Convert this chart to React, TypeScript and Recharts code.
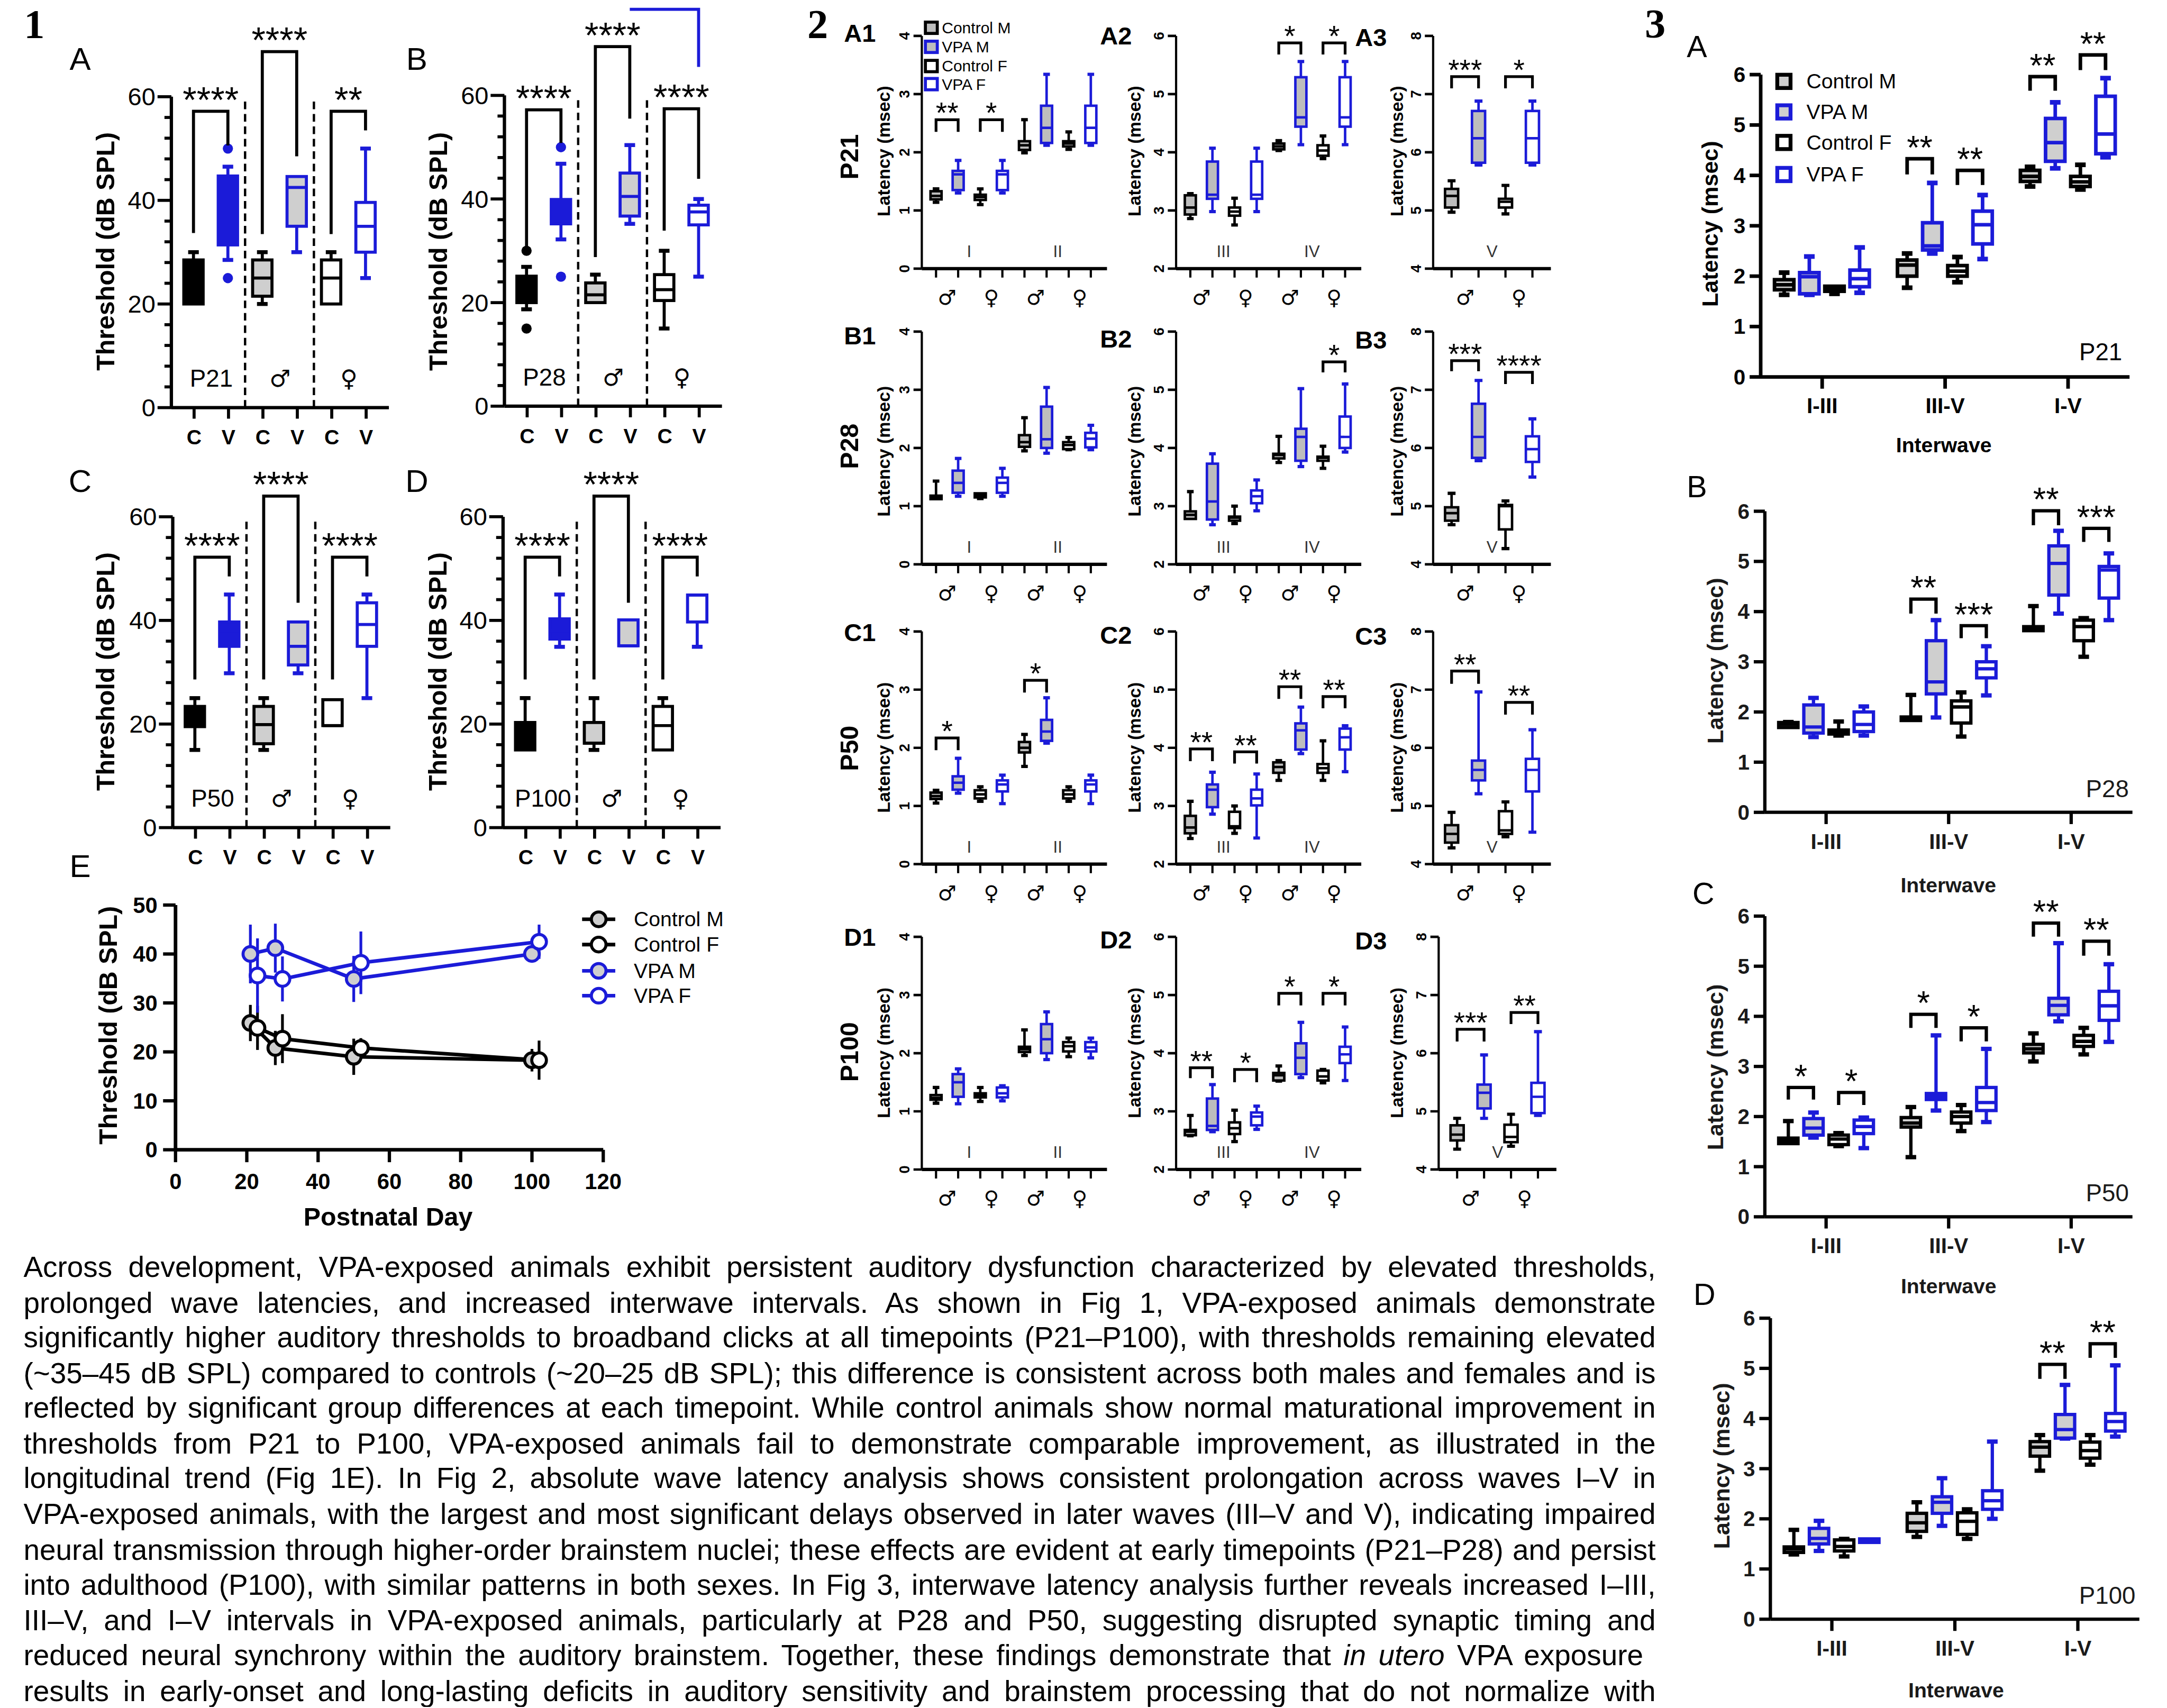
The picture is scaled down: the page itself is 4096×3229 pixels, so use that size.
import React from 'react';
import { BarChart, Bar, XAxis, YAxis, LineChart, Line, ErrorBar } from 'recharts';

const SCALE = 4096 / 1568;
const BLUE = '#1b1bd8';
const GREY = '#cfcfcf';
const GREY2 = '#bdbdbd';
const SANS = '"Liberation Sans", Arial, Helvetica, sans-serif';
const SERIF = '"Liberation Serif", "Times New Roman", serif';
const SYM = '"DejaVu Sans", sans-serif';

// ---------- Fig 1: click thresholds (dB SPL), box = [min, q1, median, q3, max] ----------
const fig1XLabels = ['C', 'V', 'C', 'V', 'C', 'V'];
const fig1YTicks = [0, 4, 8, 12, 16, 20, 24, 28, 32, 36, 40, 44, 48, 52, 56, 60];

const fig1A = [
  [20, 20, 25, 28.5, 30],
  [28.5, 31.4, 40, 44.7, 46.5],
  [20, 21.5, 25, 28.5, 30],
  [30, 35, 42.5, 44.6, 44.6],
  [20, 20, 25, 28.5, 30],
  [25, 30, 35, 39.6, 50],
];
const fig1AOut = [[], [50, 25], [], [], [], []];
// [from, to, bar top, left leg end, right leg end, stars]
const fig1ASig = [
  [0, 1, 57.2, 33.7, 50.6, '****'],
  [2, 3, 68.7, 33.5, 48.5, '****'],
  [4, 5, 57.2, 33.5, 53.5, '**'],
];

const fig1B = [
  [18.7, 20, 22, 25.1, 26.9],
  [32.2, 35.2, 38, 39.9, 46.8],
  [20, 20, 21.5, 23.8, 25.4],
  [35.2, 36.7, 40.5, 45, 50.4],
  [15, 20.4, 22.5, 25.4, 30],
  [25, 35, 37.5, 38.8, 40],
];
const fig1BOut = [[30, 15], [50, 25], [], [], [], []];
const fig1BSig = [
  [0, 1, 57.2, 30.7, 50.8, '****'],
  [2, 3, 69.4, 28.8, 55.5, '****'],
  [4, 5, 57.4, 33.9, 43.9, '****'],
];
const fig1BStray = [3, 5, 76.6, 65.5];

const fig1C = [
  [15, 19.5, 22, 23.4, 25],
  [29.8, 35, 38, 39.7, 45],
  [15, 16.2, 19.9, 23.4, 25],
  [29.8, 31.4, 35, 39.7, 39.7],
  [19.7, 19.7, 19.7, 24.7, 24.7],
  [25, 35, 39.2, 43.4, 45],
];
const fig1CSig = [
  [0, 1, 52.2, 28.6, 48.5, '****'],
  [2, 3, 64, 28.6, 43.4, '****'],
  [4, 5, 52.2, 28.6, 48.5, '****'],
];

const fig1D = [
  [15, 15, 18, 20.3, 25],
  [34.9, 36.4, 38, 40.3, 45],
  [15, 16.3, 16.3, 20.3, 25],
  [35.1, 35.1, 35.1, 40.1, 40.1],
  [15, 15, 19.7, 23.4, 25],
  [34.9, 39.7, 44.9, 44.9, 44.9],
];
const fig1DSig = [
  [0, 1, 52.2, 28.6, 48.5, '****'],
  [2, 3, 64, 28.6, 43.4, '****'],
  [4, 5, 52.2, 28.6, 48.5, '****'],
];
const noOut = [[], [], [], [], [], []];

// Fig 1E: mean threshold by postnatal day, +/- error
const eXTicks = [0, 20, 40, 60, 80, 100, 120];
const eYTicks = [0, 10, 20, 30, 40, 50];
const eControlM = [
  { day: 21, db: 25.9, err: 3.7 },
  { day: 28, db: 20.8, err: 3.5 },
  { day: 50, db: 19.0, err: 3.7 },
  { day: 100, db: 18.3, err: 2.3 },
];
const eControlF = [
  { day: 23, db: 24.9, err: 4.5 },
  { day: 30, db: 22.7, err: 5.0 },
  { day: 52, db: 20.8, err: 2.0 },
  { day: 102, db: 18.3, err: 4.0 },
];
const eVpaM = [
  { day: 21, db: 40.0, err: 6.0 },
  { day: 28, db: 41.2, err: 5.0 },
  { day: 50, db: 34.9, err: 4.7 },
  { day: 100, db: 40.0, err: 1.5 },
];
const eVpaF = [
  { day: 23, db: 35.6, err: 7.6 },
  { day: 30, db: 34.9, err: 4.6 },
  { day: 52, db: 38.2, err: 6.4 },
  { day: 102, db: 42.5, err: 3.5 },
];

// ---------- Fig 2: absolute wave latencies (msec) ----------
const fig2A1 = [
  [1.14, 1.19, 1.25, 1.33, 1.37], [1.3, 1.35, 1.62, 1.68, 1.86],
  [1.1, 1.18, 1.23, 1.27, 1.37], [1.3, 1.35, 1.62, 1.68, 1.86],
  [1.99, 2.04, 2.12, 2.19, 2.56], [2.12, 2.16, 2.42, 2.8, 3.34],
  [2.05, 2.1, 2.15, 2.19, 2.35], [2.12, 2.16, 2.42, 2.8, 3.34],
];
const fig2A2 = [
  [2.86, 2.93, 3.05, 3.26, 3.29], [2.98, 3.2, 3.27, 3.84, 4.07],
  [2.75, 2.91, 2.98, 3.05, 3.21], [2.98, 3.2, 3.27, 3.84, 4.07],
  [4.03, 4.05, 4.1, 4.15, 4.2], [4.13, 4.44, 4.6, 5.29, 5.56],
  [3.89, 3.94, 4.03, 4.12, 4.28], [4.13, 4.44, 4.6, 5.29, 5.56],
];
const fig2A3 = [
  [4.97, 5.05, 5.25, 5.37, 5.51], [5.78, 5.82, 6.24, 6.71, 6.88],
  [4.94, 5.05, 5.15, 5.2, 5.43], [5.78, 5.82, 6.24, 6.71, 6.88],
];
const fig2B1 = [
  [1.12, 1.12, 1.15, 1.18, 1.43], [1.17, 1.23, 1.4, 1.61, 1.82],
  [1.13, 1.15, 1.19, 1.22, 1.22], [1.17, 1.23, 1.4, 1.49, 1.65],
  [1.95, 2.02, 2.1, 2.22, 2.52], [1.91, 2.0, 2.15, 2.71, 3.04],
  [1.97, 1.98, 2.05, 2.1, 2.18], [1.97, 2.01, 2.16, 2.26, 2.39],
];
const fig2B2 = [
  [2.78, 2.78, 2.85, 2.91, 3.25], [2.68, 2.77, 3.08, 3.73, 3.9],
  [2.7, 2.75, 2.8, 2.82, 3.0], [2.92, 3.05, 3.17, 3.27, 3.45],
  [3.75, 3.82, 3.88, 3.9, 4.2], [3.68, 3.78, 4.19, 4.33, 5.02],
  [3.65, 3.78, 3.83, 3.85, 4.03], [3.93, 4.0, 4.19, 4.54, 5.1],
];
const fig2B3 = [
  [4.68, 4.75, 4.88, 4.98, 5.22], [5.78, 5.83, 6.19, 6.76, 7.16],
  [4.27, 4.6, 5.0, 5.02, 5.09], [5.5, 5.76, 5.98, 6.2, 6.5],
];
const fig2C1 = [
  [1.05, 1.12, 1.17, 1.23, 1.27], [1.22, 1.28, 1.4, 1.51, 1.82],
  [1.08, 1.13, 1.2, 1.27, 1.33], [1.04, 1.25, 1.37, 1.44, 1.53],
  [1.68, 1.92, 2.0, 2.1, 2.23], [2.08, 2.12, 2.28, 2.48, 2.86],
  [1.08, 1.13, 1.2, 1.27, 1.33], [1.04, 1.25, 1.37, 1.44, 1.53],
];
const fig2C2 = [
  [2.44, 2.53, 2.63, 2.83, 3.08], [2.86, 2.98, 3.28, 3.37, 3.58],
  [2.53, 2.62, 2.65, 2.9, 3.0], [2.45, 3.01, 3.13, 3.28, 3.55],
  [3.44, 3.57, 3.67, 3.75, 3.78], [3.9, 3.97, 4.3, 4.42, 4.7],
  [3.44, 3.57, 3.65, 3.72, 4.12], [3.59, 3.97, 4.18, 4.33, 4.38],
];
const fig2C3 = [
  [4.28, 4.37, 4.52, 4.67, 4.89], [5.21, 5.44, 5.62, 5.78, 6.96],
  [4.47, 4.52, 4.58, 4.91, 5.07], [4.55, 5.25, 5.62, 5.81, 6.31],
];
const fig2D1 = [
  [1.14, 1.2, 1.23, 1.28, 1.41], [1.13, 1.25, 1.5, 1.64, 1.73],
  [1.17, 1.24, 1.27, 1.31, 1.41], [1.18, 1.24, 1.31, 1.41, 1.44],
  [1.96, 2.02, 2.07, 2.11, 2.4], [1.89, 2.0, 2.24, 2.5, 2.71],
  [1.94, 2.03, 2.12, 2.19, 2.26], [1.92, 2.03, 2.1, 2.19, 2.26],
];
const fig2D2 = [
  [2.58, 2.59, 2.65, 2.68, 2.93], [2.65, 2.68, 2.75, 3.22, 3.46],
  [2.48, 2.61, 2.71, 2.81, 3.02], [2.69, 2.76, 2.91, 2.98, 3.09],
  [3.52, 3.53, 3.62, 3.66, 3.78], [3.58, 3.64, 3.92, 4.17, 4.53],
  [3.49, 3.53, 3.6, 3.7, 3.72], [3.53, 3.83, 3.98, 4.11, 4.45],
];
const fig2D3 = [
  [4.35, 4.5, 4.6, 4.76, 4.88], [4.88, 5.05, 5.32, 5.46, 5.97],
  [4.4, 4.47, 4.56, 4.77, 4.95], [4.93, 4.97, 5.25, 5.49, 6.37],
];
const fig2A1Sig = [[0, 1, 2.56, 2.35, 2.35, '**'], [2, 3, 2.56, 2.35, 2.35, '*']];
const fig2A2Sig = [[4, 5, 5.88, 5.68, 5.68, '*'], [6, 7, 5.88, 5.68, 5.68, '*']];
const fig2A3Sig = [[0, 1, 7.3, 7.1, 7.1, '***'], [2, 3, 7.3, 7.1, 7.1, '*']];
const fig2B2Sig = [[6, 7, 5.48, 5.3, 5.3, '*']];
const fig2B3Sig = [[0, 1, 7.5, 7.32, 7.32, '***'], [2, 3, 7.3, 7.1, 7.1, '****']];
const fig2C1Sig = [[0, 1, 2.17, 1.96, 1.96, '*'], [4, 5, 3.16, 2.95, 2.95, '*']];
const fig2C2Sig = [
  [0, 1, 3.98, 3.77, 3.77, '**'], [2, 3, 3.93, 3.73, 3.73, '**'],
  [4, 5, 5.05, 4.84, 4.84, '**'], [6, 7, 4.88, 4.68, 4.68, '**'],
];
const fig2C3Sig = [[0, 1, 7.32, 7.1, 7.1, '**'], [2, 3, 6.78, 6.57, 6.57, '**']];
const fig2D2Sig = [
  [0, 1, 3.75, 3.57, 3.57, '**'], [2, 3, 3.72, 3.5, 3.5, '*'],
  [4, 5, 5.03, 4.82, 4.82, '*'], [6, 7, 5.03, 4.82, 4.82, '*'],
];
const fig2D3Sig = [[0, 1, 6.41, 6.2, 6.2, '***'], [2, 3, 6.7, 6.5, 6.5, '**']];

// ---------- Fig 3: interwave latencies (msec), per group: I-III, III-V, I-V ----------
const fig3Cats = ['I-III', 'III-V', 'I-V'];
const fig3YTicks = [0, 1, 2, 3, 4, 5, 6];
const f3aCM = [[1.63, 1.73, 1.83, 1.93, 2.07], [1.77, 2.0, 2.22, 2.32, 2.45], [3.78, 3.88, 3.98, 4.1, 4.17]];
const f3aVM = [[1.63, 1.65, 1.99, 2.07, 2.39], [2.45, 2.52, 2.6, 3.06, 3.85], [4.14, 4.28, 4.65, 5.13, 5.45]];
const f3aCF = [[1.65, 1.7, 1.75, 1.8, 1.8], [1.88, 2.0, 2.1, 2.21, 2.38], [3.72, 3.78, 3.87, 3.98, 4.21]];
const f3aVF = [[1.67, 1.79, 1.95, 2.12, 2.57], [2.34, 2.64, 3.02, 3.29, 3.61], [4.36, 4.43, 4.82, 5.57, 5.93]];
const f3bCM = [[1.69, 1.69, 1.75, 1.79, 1.8], [1.83, 1.83, 1.87, 1.9, 2.34], [3.62, 3.62, 3.66, 3.7, 4.11]];
const f3bVM = [[1.5, 1.58, 1.7, 2.14, 2.28], [1.89, 2.36, 2.6, 3.42, 3.83], [3.96, 4.33, 4.96, 5.31, 5.61]];
const f3bCF = [[1.53, 1.56, 1.6, 1.64, 1.81], [1.51, 1.78, 2.1, 2.22, 2.39], [3.1, 3.42, 3.7, 3.83, 3.87]];
const f3bVF = [[1.53, 1.61, 1.75, 2.0, 2.11], [2.33, 2.68, 2.86, 3.0, 3.31], [3.83, 4.27, 4.83, 4.9, 5.16]];
const f3cCM = [[1.46, 1.46, 1.52, 1.57, 1.91], [1.19, 1.79, 1.87, 1.98, 2.19], [3.1, 3.27, 3.35, 3.44, 3.66]];
const f3cVM = [[1.58, 1.63, 1.77, 1.96, 2.08], [2.12, 2.34, 2.4, 2.46, 3.62], [3.9, 4.03, 4.22, 4.36, 5.46]];
const f3cCF = [[1.41, 1.44, 1.55, 1.63, 1.67], [1.71, 1.87, 2.0, 2.09, 2.23], [3.24, 3.4, 3.5, 3.62, 3.77]];
const f3cVF = [[1.37, 1.66, 1.8, 1.93, 1.98], [1.89, 2.12, 2.28, 2.58, 3.35], [3.49, 3.92, 4.21, 4.5, 5.04]];
const f3dCM = [[1.29, 1.33, 1.4, 1.44, 1.78], [1.64, 1.75, 1.92, 2.11, 2.33], [2.96, 3.25, 3.43, 3.54, 3.67]];
const f3dVM = [[1.36, 1.5, 1.61, 1.81, 1.96], [1.86, 2.11, 2.33, 2.44, 2.81], [3.6, 3.61, 3.78, 4.08, 4.67]];
const f3dCF = [[1.25, 1.36, 1.45, 1.58, 1.6], [1.6, 1.69, 1.95, 2.12, 2.19], [3.08, 3.21, 3.36, 3.53, 3.67]];
const f3dVF = [[1.53, 1.53, 1.56, 1.6, 1.6], [2.0, 2.19, 2.36, 2.56, 3.54], [3.64, 3.75, 3.94, 4.1, 5.06]];
// [group, pair (M/F), bar top, leg end, stars]
const f3aSig = [[1, 'M', 4.33, 4.02, '**'], [1, 'F', 4.1, 3.81, '**'], [2, 'M', 5.96, 5.68, '**'], [2, 'F', 6.39, 6.09, '**']];
const f3bSig = [[1, 'M', 4.25, 3.96, '**'], [1, 'F', 3.72, 3.47, '***'], [2, 'M', 6.01, 5.72, '**'], [2, 'F', 5.66, 5.39, '***']];
const f3cSig = [
  [0, 'M', 2.58, 2.34, '*'], [0, 'F', 2.48, 2.23, '*'], [1, 'M', 4.04, 3.77, '*'],
  [1, 'F', 3.77, 3.5, '*'], [2, 'M', 5.86, 5.59, '**'], [2, 'F', 5.5, 5.21, '**'],
];
const f3dSig = [[2, 'M', 5.08, 4.79, '**'], [2, 'F', 5.49, 5.21, '**']];

const paragraph = [
  'Across development, VPA-exposed animals exhibit persistent auditory dysfunction characterized by elevated thresholds,',
  'prolonged wave latencies, and increased interwave intervals. As shown in Fig 1, VPA-exposed animals demonstrate',
  'significantly higher auditory thresholds to broadband clicks at all timepoints (P21–P100), with thresholds remaining elevated',
  '(~35–45 dB SPL) compared to controls (~20–25 dB SPL); this difference is consistent across both males and females and is',
  'reflected by significant group differences at each timepoint. While control animals show normal maturational improvement in',
  'thresholds from P21 to P100, VPA-exposed animals fail to demonstrate comparable improvement, as illustrated in the',
  'longitudinal trend (Fig 1E). In Fig 2, absolute wave latency analysis shows consistent prolongation across waves I–V in',
  'VPA-exposed animals, with the largest and most significant delays observed in later waves (III–V and V), indicating impaired',
  'neural transmission through higher-order brainstem nuclei; these effects are evident at early timepoints (P21–P28) and persist',
  'into adulthood (P100), with similar patterns in both sexes. In Fig 3, interwave latency analysis further reveals increased I–III,',
  'III–V, and I–V intervals in VPA-exposed animals, particularly at P28 and P50, suggesting disrupted synaptic timing and',
  'reduced neural synchrony within the auditory brainstem. Together, these findings demonstrate that *in utero* VPA exposure',
  'results in early-onset and long-lasting deficits in auditory sensitivity and brainstem processing that do not normalize with',
];

// ---------- shared helpers ----------
const FR = { ml: 10, yw: 40, mt: 85, mr: 12, mb: 4, xh: 50 };
function frame(px: number, py: number, pw: number, ph: number, mr = FR.mr) {
  return {
    style: { position: 'absolute', left: px - FR.ml - FR.yw, top: py - FR.mt } as React.CSSProperties,
    width: pw + FR.ml + FR.yw + mr,
    height: ph + FR.mt + FR.mb + FR.xh,
    margin: { top: FR.mt, right: mr, bottom: FR.mb, left: FR.ml },
  };
}

// linear value->pixel map recovered from the bar the library laid out for [q1, q3]
function barScale(p: any, lo: number, hi: number) {
  let y = p.y;
  let h = p.height;
  if (h < 0) { y += h; h = -h; }
  const k = h / (hi - lo);
  return (v: number) => y + (hi - v) * k;
}

function boxMarks(p: any, b: number[], Y: (v: number) => number, st: any, sw: number, cap: number) {
  const [mn, q1, md, q3, mx] = b;
  const cx = p.x + p.width / 2;
  const hw = (p.width * cap) / 2;
  const ln = { stroke: st.stroke, strokeWidth: sw };
  return (
    <g>
      {mx > q3 && <line x1={cx} x2={cx} y1={Y(mx)} y2={Y(q3)} {...ln} />}
      {mn < q1 && <line x1={cx} x2={cx} y1={Y(q1)} y2={Y(mn)} {...ln} />}
      {mx > q3 && <line x1={cx - hw} x2={cx + hw} y1={Y(mx)} y2={Y(mx)} stroke={st.stroke} strokeWidth={sw * 1.3} />}
      {mn < q1 && <line x1={cx - hw} x2={cx + hw} y1={Y(mn)} y2={Y(mn)} stroke={st.stroke} strokeWidth={sw * 1.3} />}
      <rect x={p.x} y={Y(q3)} width={p.width} height={Y(q1) - Y(q3)} fill={st.fill} stroke={st.stroke} strokeWidth={sw} />
      <line x1={p.x} x2={p.x + p.width} y1={Y(md)} y2={Y(md)} {...ln} />
    </g>
  );
}

function sigMark(key: any, xa: number, xb: number, Y: (v: number) => number, s: any[], o: any) {
  const yt = Y(s[2]);
  return (
    <g key={key}>
      <polyline
        points={`${xa},${Y(s[3])} ${xa},${yt} ${xb},${yt} ${xb},${Y(s[4])}`}
        fill="none" stroke={o.color} strokeWidth={o.sw} strokeLinejoin="miter"
      />
      {s[5] ? (
        <text x={(xa + xb) / 2} y={yt - o.gap + 0.58 * o.fs} textAnchor="middle" fontFamily={SANS} fontSize={o.fs} fill="#000">
          {s[5]}
        </text>
      ) : null}
    </g>
  );
}

const idx = (v: any) => Number(String(v).slice(1));

// ---------- Fig 1 panels ----------
const fig1Styles = [
  { fill: '#000', stroke: '#000' },
  { fill: BLUE, stroke: BLUE },
  { fill: GREY, stroke: '#000' },
  { fill: GREY, stroke: BLUE },
  { fill: '#fff', stroke: '#000' },
  { fill: '#fff', stroke: BLUE },
];

function Fig1Panel({ px, py, boxes, out, sig, age, stray }: any) {
  const pw = 157.4, ph = 225, pad = 4;
  const f = frame(px, py, pw, ph);
  const step = (pw - 2 * pad) / boxes.length;
  const rows = boxes.map((b: number[], i: number) => ({ id: 'g' + i, i, b, r: [b[1], b[3]], out: out[i] }));
  const inner = [age, '♂', '♀'];

  const shape = (p: any) => {
    const { i, b } = p.payload;
    const st = fig1Styles[i];
    const Y = barScale(p, b[1], b[3]);
    const cx = p.x + p.width / 2;
    const so = { sw: 2.2, color: '#000', gap: 14.5, fs: 26 };
    return (
      <g>
        {(i === 1 || i === 3) && (
          <line x1={cx + step / 2} x2={cx + step / 2} y1={Y(0)} y2={Y(59.3)} stroke="#000" strokeWidth={1.7} strokeDasharray="5.5 3.5" />
        )}
        {boxMarks(p, b, Y, st, 2.2, 0.55)}
        {p.payload.out.map((v: number, k: number) => (
          <circle key={k} cx={cx} cy={Y(v)} r={3.7} fill={st.stroke} />
        ))}
        {sig.filter((s: any) => s[1] === i).map((s: any, k: number) => sigMark(k, cx - (s[1] - s[0]) * step, cx, Y, s, so))}
        {stray && stray[1] === i &&
          sigMark('stray', cx - (stray[1] - stray[0]) * step, cx, Y, [0, 0, stray[2], stray[2], stray[3], ''], { ...so, color: BLUE })}
      </g>
    );
  };

  const yTick = (p: any) => {
    const v = p.payload.value;
    const major = v % 20 === 0;
    return (
      <g>
        <line x1={p.x} x2={p.x - (major ? 10 : 5)} y1={p.y} y2={p.y} stroke="#000" strokeWidth={2.2} />
        {major && (
          <text x={p.x - 11.5} y={p.y} textAnchor="end" dominantBaseline="central" fontSize={18} fontFamily={SANS} fill="#000">{v}</text>
        )}
      </g>
    );
  };
  const xTick = (p: any) => {
    const i = idx(p.payload.value);
    return (
      <g>
        <line x1={p.x} x2={p.x} y1={p.y} y2={p.y + 8} stroke="#000" strokeWidth={2.2} />
        <text x={p.x} y={p.y + 21.5} textAnchor="middle" dominantBaseline="central" fontSize={15} fontWeight="bold" fontFamily={SANS} fill="#000">
          {fig1XLabels[i]}
        </text>
        {i % 2 === 0 && (
          <text x={p.x + step / 2} y={p.y - 21} textAnchor="middle" dominantBaseline="central"
            fontSize={i === 0 ? 17.5 : 17} fontFamily={i === 0 ? SANS : SYM} fill="#000">
            {inner[i / 2]}
          </text>
        )}
      </g>
    );
  };

  return (
    <div style={f.style}>
      <BarChart width={f.width} height={f.height} data={rows} margin={f.margin} barSize={14}>
        <XAxis dataKey="id" interval={0} height={FR.xh} padding={{ left: pad, right: pad }} tickSize={0} tickMargin={0}
          tickLine={false} axisLine={{ stroke: '#000', strokeWidth: 2.4 }} tick={xTick} />
        <YAxis type="number" domain={[0, 60]} ticks={fig1YTicks} interval={0} width={FR.yw} tickSize={0} tickMargin={0}
          tickLine={false} axisLine={{ stroke: '#000', strokeWidth: 2.4 }} tick={yTick} />
        <Bar dataKey="r" shape={shape} isAnimationActive={false} />
      </BarChart>
    </div>
  );
}

function Fig1E() {
  const f = frame(126.7, 654.8, 309.5, 177.1, 40);
  const ser = [
    { data: eControlM, stroke: '#000', fill: GREY },
    { data: eControlF, stroke: '#000', fill: '#fff' },
    { data: eVpaM, stroke: BLUE, fill: GREY },
    { data: eVpaF, stroke: BLUE, fill: '#fff' },
  ];
  const yTick = (p: any) => (
    <g>
      <line x1={p.x} x2={p.x - 9} y1={p.y} y2={p.y} stroke="#000" strokeWidth={2.4} />
      <text x={p.x - 13} y={p.y} textAnchor="end" dominantBaseline="central" fontSize={16} fontWeight="bold" fontFamily={SANS} fill="#000">
        {p.payload.value}
      </text>
    </g>
  );
  const xTick = (p: any) => (
    <g>
      <line x1={p.x} x2={p.x} y1={p.y} y2={p.y + 9} stroke="#000" strokeWidth={2.4} />
      <text x={p.x} y={p.y + 23} textAnchor="middle" dominantBaseline="central" fontSize={16} fontWeight="bold" fontFamily={SANS} fill="#000">
        {p.payload.value}
      </text>
    </g>
  );
  return (
    <div style={f.style}>
      <LineChart width={f.width} height={f.height} margin={f.margin}>
        <XAxis type="number" dataKey="day" domain={[0, 120]} ticks={eXTicks} interval={0} height={FR.xh} tickSize={0} tickMargin={0}
          tickLine={false} axisLine={{ stroke: '#000', strokeWidth: 2.6 }} tick={xTick} allowDuplicatedCategory={false} />
        <YAxis type="number" domain={[0, 50]} ticks={eYTicks} interval={0} width={FR.yw} tickSize={0} tickMargin={0}
          tickLine={false} axisLine={{ stroke: '#000', strokeWidth: 2.6 }} tick={yTick} />
        {ser.map((s, k) => (
          <Line key={k} data={s.data} dataKey="db" stroke={s.stroke} strokeWidth={2.6} isAnimationActive={false}
            dot={(p: any) => <circle key={p.index} cx={p.cx} cy={p.cy} r={5.3} fill={s.fill} stroke={s.stroke} strokeWidth={2.2} />}>
            <ErrorBar dataKey="err" width={0} stroke={s.stroke} strokeWidth={2} direction="y" isAnimationActive={false} />
          </Line>
        ))}
      </LineChart>
    </div>
  );
}

// ---------- Fig 2 panels ----------
const fig2Styles = [
  { fill: GREY2, stroke: '#000' },
  { fill: GREY2, stroke: BLUE },
  { fill: '#fff', stroke: '#000' },
  { fill: '#fff', stroke: BLUE },
];

function Fig2Panel({ px, py, pw, pad, boxes, sig, dom, yt, roman, bw }: any) {
  const ph = 168.4;
  const f = frame(px, py, pw, ph);
  const step = (pw - pad[0] - pad[1]) / boxes.length;
  const rows = boxes.map((b: number[], i: number) => ({ id: 'w' + i, i, b, r: [b[1], b[3]] }));

  const shape = (p: any) => {
    const { i, b } = p.payload;
    const Y = barScale(p, b[1], b[3]);
    const cx = p.x + p.width / 2;
    return (
      <g>
        {boxMarks(p, b, Y, fig2Styles[i % 4], 1.8, 0.6)}
        {sig.filter((s: any) => s[1] === i).map((s: any, k: number) =>
          sigMark(k, cx - (s[1] - s[0]) * step, cx, Y, s, { sw: 2, color: '#000', gap: 9.8, fs: 21 }))}
      </g>
    );
  };
  const yTick = (p: any) => {
    const tx = p.x - 12.5;
    return (
      <g>
        <line x1={p.x} x2={p.x - 6} y1={p.y} y2={p.y} stroke="#000" strokeWidth={1.8} />
        <text x={tx} y={p.y} transform={`rotate(-90 ${tx} ${p.y})`} textAnchor="middle" dominantBaseline="central"
          fontSize={10.5} fontWeight="bold" fontFamily={SANS} fill="#000">
          {p.payload.value}
        </text>
      </g>
    );
  };
  const xTick = (p: any) => {
    const i = idx(p.payload.value);
    return (
      <g>
        <line x1={p.x} x2={p.x} y1={p.y} y2={p.y + 6.5} stroke="#000" strokeWidth={1.6} />
        {i % 2 === 0 && (
          <text x={p.x + step / 2} y={p.y + 21} textAnchor="middle" dominantBaseline="central" fontSize={15} fontFamily={SYM} fill="#000">
            {i % 4 === 0 ? '♂' : '♀'}
          </text>
        )}
        {i % 4 === 1 && (
          <text x={p.x + step / 2} y={p.y - 12.5} textAnchor="middle" dominantBaseline="central" fontSize={12} fontFamily={SANS} fill="#333">
            {roman[(i - 1) / 4]}
          </text>
        )}
      </g>
    );
  };

  return (
    <div style={f.style}>
      <BarChart width={f.width} height={f.height} data={rows} margin={f.margin} barSize={bw}>
        <XAxis dataKey="id" interval={0} height={FR.xh} padding={{ left: pad[0], right: pad[1] }} tickSize={0} tickMargin={0}
          tickLine={false} axisLine={{ stroke: '#000', strokeWidth: 2.4 }} tick={xTick} />
        <YAxis type="number" domain={dom} ticks={yt} interval={0} width={FR.yw} tickSize={0} tickMargin={0}
          tickLine={false} axisLine={{ stroke: '#000', strokeWidth: 1.6 }} tick={yTick} />
        <Bar dataKey="r" shape={shape} isAnimationActive={false} />
      </BarChart>
    </div>
  );
}

// ---------- Fig 3 panels ----------
const fig3Keys = ['CM', 'VM', 'CF', 'VF'];
const fig3Styles: any = {
  CM: { fill: GREY, stroke: '#000' },
  VM: { fill: GREY, stroke: BLUE },
  CF: { fill: '#fff', stroke: '#000' },
  VF: { fill: '#fff', stroke: BLUE },
};

function Fig3Panel({ px, py, pw, ph, cm, vm, cf, vf, sig, sw, ink }: any) {
  const f = frame(px, py, pw, ph);
  const bw = 14, gap = 4.2;
  const rows = fig3Cats.map((cat, j) => ({
    cat, j, CM: cm[j], VM: vm[j], CF: cf[j], VF: vf[j],
    CMr: [cm[j][1], cm[j][3]], VMr: [vm[j][1], vm[j][3]], CFr: [cf[j][1], cf[j][3]], VFr: [vf[j][1], vf[j][3]],
  }));
  const shapeFor = (key: string) => (p: any) => {
    const b = p.payload[key];
    const Y = barScale(p, b[1], b[3]);
    const cx = p.x + p.width / 2;
    const pair = key === 'VM' ? 'M' : key === 'VF' ? 'F' : null;
    return (
      <g>
        {boxMarks(p, b, Y, fig3Styles[key], sw, 0.55)}
        {pair && sig.filter((s: any) => s[0] === p.payload.j && s[1] === pair).map((s: any, k: number) =>
          sigMark(k, cx - (bw + gap), cx, Y, [0, 0, s[2], s[3], s[3], s[4]], { sw, color: '#000', gap: 14, fs: 24 }))}
      </g>
    );
  };
  const yTick = (p: any) => (
    <g>
      <line x1={p.x} x2={p.x - 8} y1={p.y} y2={p.y} stroke="#000" strokeWidth={sw} />
      <text x={p.x - 11} y={p.y} textAnchor="end" dominantBaseline="central" fontSize={15.5} fontWeight="bold" fontFamily={SANS} fill={ink}>
        {p.payload.value}
      </text>
    </g>
  );
  const xTick = (p: any) => (
    <g>
      <line x1={p.x} x2={p.x} y1={p.y} y2={p.y + 8.5} stroke="#000" strokeWidth={sw} />
      <text x={p.x} y={p.y + 21} textAnchor="middle" dominantBaseline="central" fontSize={15.5} fontWeight="bold" fontFamily={SANS} fill={ink}>
        {p.payload.value}
      </text>
    </g>
  );
  return (
    <div style={f.style}>
      <BarChart width={f.width} height={f.height} data={rows} margin={f.margin} barSize={bw} barGap={gap}>
        <XAxis dataKey="cat" interval={0} height={FR.xh} tickSize={0} tickMargin={0} tickLine={false}
          axisLine={{ stroke: '#000', strokeWidth: sw }} tick={xTick} />
        <YAxis type="number" domain={[0, 6]} ticks={fig3YTicks} interval={0} width={FR.yw} tickSize={0} tickMargin={0}
          tickLine={false} axisLine={{ stroke: '#000', strokeWidth: sw }} tick={yTick} />
        {fig3Keys.map((k) => (
          <Bar key={k} dataKey={k + 'r'} shape={shapeFor(k)} isAnimationActive={false} />
        ))}
      </BarChart>
    </div>
  );
}

// ---------- static text ----------
const T = ({ x, y, fs, w = 'normal', rot = false, ff = SANS, anchor = 'middle', fill = '#000', base = 'central', children }: any) => (
  <text x={x} y={y} fontSize={fs} fontWeight={w} fontFamily={ff} textAnchor={anchor} dominantBaseline={base} fill={fill}
    transform={rot ? `rotate(-90 ${x} ${y})` : undefined}>
    {children}
  </text>
);

function Overlay() {
  const eLegend = [
    ['Control M', '#000', GREY, 665.3],
    ['Control F', '#000', '#fff', 683.6],
    ['VPA M', BLUE, GREY, 702.6],
    ['VPA F', BLUE, '#fff', 720.6],
  ];
  const f2Legend = [
    ['Control M', fig2Styles[0], 20.1],
    ['VPA M', fig2Styles[1], 33.9],
    ['Control F', fig2Styles[2], 47.8],
    ['VPA F', fig2Styles[3], 60.9],
  ];
  const f3Legend = [
    ['Control M', fig3Styles.CM, 58.9],
    ['VPA M', fig3Styles.VM, 81],
    ['Control F', fig3Styles.CF, 103.1],
    ['VPA F', fig3Styles.VF, 126.3],
  ];
  const f2Rows = [
    { y: 24, p: 'P21', py: 113.5, ty: 109.4 },
    { y: 243, p: 'P28', py: 323, ty: 326.6 },
    { y: 457.5, p: 'P50', py: 541.6, ty: 541 },
    { y: 678, p: 'P100', py: 761.3, ty: 762 },
  ];
  const rowLetters = ['A', 'B', 'C', 'D'];
  return (
    <svg width={1568} height={1236} style={{ position: 'absolute', left: 0, top: 0 }}>
      <T x={24.8} y={27.5} fs={30} w="bold" ff={SERIF} base="alphabetic">1</T>
      <T x={591.7} y={27.5} fs={30} w="bold" ff={SERIF} base="alphabetic">2</T>
      <T x={1197.7} y={27} fs={30} w="bold" ff={SERIF} base="alphabetic">3</T>

      {/* Fig 1 */}
      <T x={58} y={42.6} fs={23}>A</T>
      <T x={301.6} y={42.6} fs={23}>B</T>
      <T x={58} y={348} fs={23}>C</T>
      <T x={301.6} y={348} fs={23}>D</T>
      <T x={58} y={627} fs={23}>E</T>
      {[[76.2, 182], [317, 182], [76.2, 486], [316.5, 486], [78.2, 742]].map(([x, y], k) => (
        <T key={k} x={x} y={y} fs={18.5} w="bold" rot>Threshold (dB SPL)</T>
      ))}
      <T x={280.8} y={880.5} fs={18.5} w="bold">Postnatal Day</T>
      {eLegend.map(([label, stroke, fill, y]: any) => (
        <g key={label}>
          <line x1={421.2} x2={445.2} y1={y} y2={y} stroke={stroke} strokeWidth={2.6} />
          <circle cx={433.2} cy={y} r={5.3} fill={fill} stroke={stroke} strokeWidth={2.2} />
          <T x={458.6} y={y} fs={15} anchor="start">{label}</T>
        </g>
      ))}

      {/* Fig 2 */}
      {f2Rows.map((r, k) => (
        <g key={k}>
          <T x={622.2} y={r.y} fs={18} w="bold">{rowLetters[k] + '1'}</T>
          <T x={807.5} y={r.y + 2} fs={18} w="bold">{rowLetters[k] + '2'}</T>
          <T x={992} y={r.y + 3} fs={18} w="bold">{rowLetters[k] + '3'}</T>
          <T x={614.6} y={r.py} fs={18.5} w="bold" rot>{r.p}</T>
          {[639.4, 820.9, 1010.5].map((x) => (
            <T key={x} x={x} y={r.ty} fs={13} w="bold" rot>Latency (msec)</T>
          ))}
        </g>
      ))}
      {f2Legend.map(([label, st, y]: any) => (
        <g key={label}>
          <rect x={669.6} y={y - 4.1} width={8.6} height={8.2} fill={st.fill} stroke={st.stroke} strokeWidth={2.2} />
          <T x={681.5} y={y} fs={11.5} anchor="start">{label}</T>
        </g>
      ))}

      {/* Fig 3 */}
      <T x={1227.8} y={33.7} fs={22}>A</T>
      <T x={1227.8} y={352.1} fs={22}>B</T>
      <T x={1232.6} y={646.4} fs={22}>C</T>
      <T x={1233.3} y={936.8} fs={22}>D</T>
      <T x={1237.4} y={162} fs={16.5} w="bold" rot>Latency (msec)</T>
      <T x={1241} y={478.2} fs={16.5} w="bold" rot fill="#1a1a1a">Latency (msec)</T>
      <T x={1241} y={772.3} fs={16.5} w="bold" rot fill="#1a1a1a">Latency (msec)</T>
      <T x={1245.8} y={1060.9} fs={16.5} w="bold" rot fill="#1a1a1a">Latency (msec)</T>
      <T x={1406.5} y={322} fs={15} w="bold">Interwave</T>
      <T x={1409.8} y={640.5} fs={15} w="bold" fill="#1a1a1a">Interwave</T>
      <T x={1410} y={930.8} fs={15} w="bold" fill="#1a1a1a">Interwave</T>
      <T x={1415.4} y={1223.3} fs={15} w="bold" fill="#1a1a1a">Interwave</T>
      <T x={1520} y={254.7} fs={17.5}>P21</T>
      <T x={1524.8} y={571} fs={17.5} fill="#1a1a1a">P28</T>
      <T x={1524.8} y={863.4} fs={17.5} fill="#1a1a1a">P50</T>
      <T x={1524.8} y={1154.7} fs={17.5} fill="#1a1a1a">P100</T>
      {f3Legend.map(([label, st, y]: any) => (
        <g key={label}>
          <rect x={1286} y={y - 4.8} width={9.6} height={9.6} fill={st.fill} stroke={st.stroke} strokeWidth={2.8} />
          <T x={1307.1} y={y} fs={15} anchor="start">{label}</T>
        </g>
      ))}
    </svg>
  );
}

function Paragraph() {
  return (
    <>
      {paragraph.map((line, i) => (
        <div key={i} style={{
          position: 'absolute', left: 17, top: 904 + i * 25.58, width: i === 11 ? 1172 : 1181,
          fontFamily: SANS, fontSize: 21, lineHeight: '25.6px', textAlign: 'justify', textAlignLast: 'justify', color: '#000',
        }}>
          {line.split('*').map((s, k) => (k % 2 ? <i key={k}>{s}</i> : <span key={k}>{s}</span>))}
        </div>
      ))}
    </>
  );
}

export default function App() {
  const c1 = [667.3, 850.7, 1036.8];
  const rowsY = [25.6, 240.3, 457.4, 677.9];
  const pw12 = 134, pw3 = 85.2;
  const pad12 = [2.3, 3.7], pad3 = [3.6, 3.6];
  const yt1 = [0, 1, 2, 3, 4], yt2 = [2, 3, 4, 5, 6], yt3 = [4, 5, 6, 7, 8];
  const fig2Rows = [
    [fig2A1, fig2A2, fig2A3, fig2A1Sig, fig2A2Sig, fig2A3Sig],
    [fig2B1, fig2B2, fig2B3, [], fig2B2Sig, fig2B3Sig],
    [fig2C1, fig2C2, fig2C3, fig2C1Sig, fig2C2Sig, fig2C3Sig],
    [fig2D1, fig2D2, fig2D3, [], fig2D2Sig, fig2D3Sig],
  ];
  return (
    <div style={{ position: 'absolute', left: 0, top: 0, width: 4096, height: 3229, overflow: 'hidden', background: '#fff' }}>
      <div style={{ position: 'absolute', left: 0, top: 0, width: 1568, height: 1236, transform: `scale(${SCALE})`, transformOrigin: '0 0' }}>
        <Fig1Panel px={124.3} py={69.8} boxes={fig1A} out={fig1AOut} sig={fig1ASig} age="P21" />
        <Fig1Panel px={364.6} py={69.3} boxes={fig1B} out={fig1BOut} sig={fig1BSig} age="P28" stray={fig1BStray} />
        <Fig1Panel px={124.8} py={373.9} boxes={fig1C} out={noOut} sig={fig1CSig} age="P50" />
        <Fig1Panel px={364.2} py={373.9} boxes={fig1D} out={noOut} sig={fig1DSig} age="P100" />
        <Fig1E />

        {fig2Rows.map((r: any, k) => (
          <React.Fragment key={k}>
            <Fig2Panel px={c1[0]} py={rowsY[k]} pw={pw12} pad={pad12} boxes={r[0]} sig={r[3]} dom={[0, 4]} yt={yt1} roman={['I', 'II']} bw={8} />
            <Fig2Panel px={c1[1]} py={rowsY[k]} pw={pw12} pad={pad12} boxes={r[1]} sig={r[4]} dom={[2, 6]} yt={yt2} roman={['III', 'IV']} bw={8} />
            <Fig2Panel px={k === 3 ? 1040.6 : c1[2]} py={rowsY[k]} pw={pw3} pad={pad3} boxes={r[2]} sig={r[5]} dom={[4, 8]} yt={yt3} roman={['V']} bw={9.5} />
          </React.Fragment>
        ))}

        <Fig3Panel px={1273.5} py={53.7} pw={266.9} ph={218.8} cm={f3aCM} vm={f3aVM} cf={f3aCF} vf={f3aVF} sig={f3aSig} sw={2.6} ink="#000" />
        <Fig3Panel px={1277.1} py={370.2} pw={266} ph={217.9} cm={f3bCM} vm={f3bVM} cf={f3bCF} vf={f3bVF} sig={f3bSig} sw={2.4} ink="#1a1a1a" />
        <Fig3Panel px={1277.1} py={663.3} pw={266} ph={217.6} cm={f3cCM} vm={f3cVM} cf={f3cCF} vf={f3cVF} sig={f3cSig} sw={2.4} ink="#1a1a1a" />
        <Fig3Panel px={1281.4} py={954} pw={267} ph={217.8} cm={f3dCM} vm={f3dVM} cf={f3dCF} vf={f3dVF} sig={f3dSig} sw={2.4} ink="#1a1a1a" />

        <Overlay />
        <Paragraph />
      </div>
    </div>
  );
}
